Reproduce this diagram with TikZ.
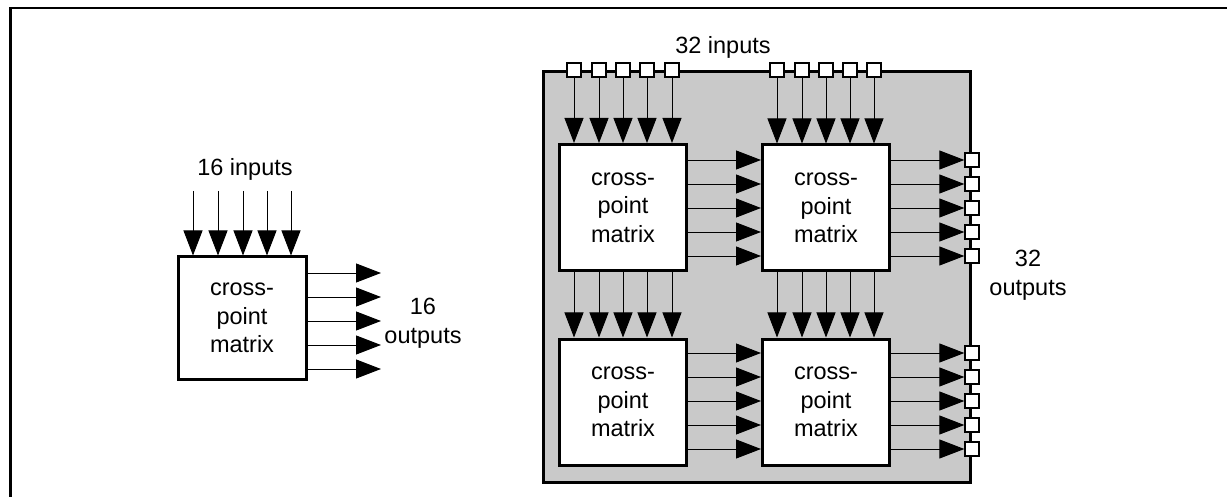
\documentclass[tikz,border=0pt]{standalone}
\usepackage{fontspec}
\setmainfont{Liberation Sans}
\usetikzlibrary{arrows.meta}
\begin{document}
\begin{tikzpicture}[x=1pt,y=-1pt,
  xbox/.style={draw,line width=3pt,fill=white,minimum width=127pt,minimum height=126pt,inner sep=0pt,align=center,font=\fontsize{23.5}{28.5}\selectfont},
  port/.style={draw,line width=1.3pt,fill=white,minimum size=14pt,inner sep=0pt},
  arr/.style={line width=0.9pt,-{Triangle[length=25pt,width=19pt]}},
  lbl/.style={align=center,font=\fontsize{23.5}{29}\selectfont,inner sep=0pt}]
\useasboundingbox (0,0) rectangle (1227,497);
% page frame
\draw[line width=2.6pt] (10.5,497) -- (10.5,8) -- (1227,8);

% ---------- left: single matrix ----------
\node[xbox,minimum width=128pt,minimum height=122pt] (lm) at (242,318) {cross-\\point\\matrix};
\foreach \i/\x in {1/193,2/218,3/243,4/267,5/291}{
  \coordinate (li\i) at (\x,191);
  \draw[arr] (li\i) -- (li\i |- lm.north);
}
\foreach \i/\y in {1/273,2/297,3/321,4/345,5/369}{
  \coordinate (lo\i) at (381,\y);
  \draw[arr] (lm.east |- lo\i) -- (lo\i);
}
\node[lbl] (lin) at (245,169) {16 inputs};
\node[lbl] (lout) at (423,323) {16\\outputs};

% ---------- right: 2x2 matrices ----------
\node[draw,line width=3.8pt,fill=black!21,minimum width=427pt,minimum height=411pt,inner sep=0pt] (big) at (757,277) {};
\node[xbox] (tl) at (623,207.5) {cross-\\point\\matrix};
\node[xbox] (tr) at (826,208) {cross-\\point\\matrix};
\node[xbox] (bl) at (623,402) {cross-\\point\\matrix};
\node[xbox] (br) at (826,402) {cross-\\point\\matrix};

% top input ports
\foreach \i/\x in {1/574,2/599,3/623,4/647,5/672}{
  \node[port] (pa\i) at (\x,70) {};
  \draw[arr] (pa\i.south) -- (pa\i.south |- tl.north);
  \draw[arr] (tl.south -| pa\i) -- (bl.north -| pa\i);
}
\foreach \i/\x in {1/777,2/802,3/826,4/850,5/874}{
  \node[port] (pb\i) at (\x,70) {};
  \draw[arr] (pb\i.south) -- (pb\i.south |- tr.north);
  \draw[arr] (tr.south -| pb\i) -- (br.north -| pb\i);
}
% right output ports
\foreach \i/\y in {1/160,2/184,3/208,4/232,5/256}{
  \node[port] (oa\i) at (972,\y) {};
  \draw[arr] (tl.east |- oa\i) -- (tr.west |- oa\i);
  \draw[arr] (tr.east |- oa\i) -- (oa\i.west);
}
\foreach \i/\y in {1/353,2/377,3/401,4/425,5/449}{
  \node[port] (ob\i) at (972,\y) {};
  \draw[arr] (bl.east |- ob\i) -- (br.west |- ob\i);
  \draw[arr] (br.east |- ob\i) -- (ob\i.west);
}
\node[lbl] (rin) at (723,47) {32 inputs};
\node[lbl] (rout) at (1028,275) {32\\outputs};
\end{tikzpicture}
\end{document}
